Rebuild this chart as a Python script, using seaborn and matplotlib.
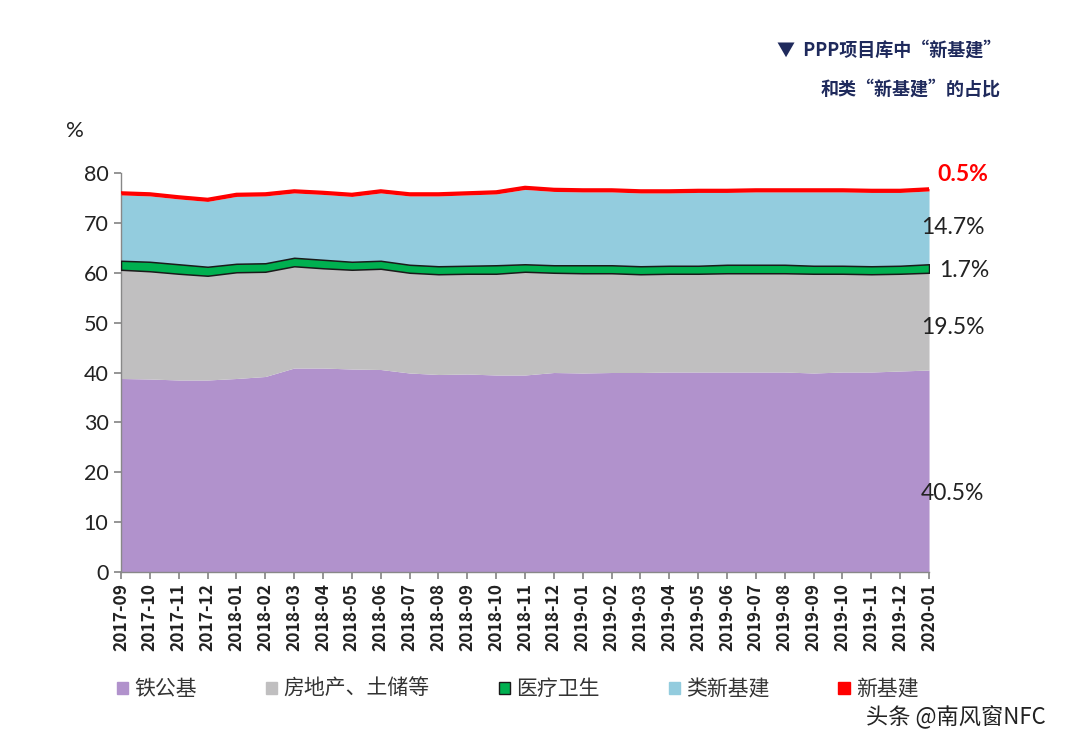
import matplotlib
matplotlib.use("Agg")
import matplotlib.pyplot as plt
from matplotlib.patches import Patch
import seaborn as sns
import numpy as np
import pandas as pd

months = ['2017-09', '2017-10', '2017-11', '2017-12', '2018-01', '2018-02', '2018-03',
          '2018-04', '2018-05', '2018-06', '2018-07', '2018-08', '2018-09', '2018-10',
          '2018-11', '2018-12', '2019-01', '2019-02', '2019-03', '2019-04', '2019-05',
          '2019-06', '2019-07', '2019-08', '2019-09', '2019-10', '2019-11', '2019-12',
          '2020-01']

tiegongji = [38.8, 38.7, 38.5, 38.5, 38.8, 39.2, 40.9, 40.9, 40.7, 40.6, 39.9, 39.6, 39.7, 39.5,
             39.5, 40.0, 39.9, 40.0, 40.0, 40.1, 40.1, 40.1, 40.1, 40.1, 39.9, 40.1, 40.1, 40.3, 40.5]
fangdichan = [21.8, 21.6, 21.3, 20.9, 21.3, 21.0, 20.4, 20.0, 19.9, 20.2, 20.1, 20.1, 20.1, 20.3,
              20.7, 20.0, 20.0, 19.9, 19.7, 19.7, 19.7, 19.8, 19.8, 19.8, 19.9, 19.7, 19.6, 19.5, 19.5]
yiliao = [1.8, 1.9, 1.9, 1.8, 1.7, 1.7, 1.7, 1.7, 1.6, 1.6, 1.6, 1.6, 1.6, 1.7,
          1.5, 1.5, 1.6, 1.6, 1.6, 1.6, 1.6, 1.7, 1.7, 1.7, 1.6, 1.6, 1.6, 1.6, 1.7]
lei_xinjijian = [13.2, 13.2, 13.1, 13.1, 13.5, 13.5, 13.0, 13.1, 13.1, 13.6, 13.8, 14.1, 14.2, 14.3,
                 15.0, 14.8, 14.7, 14.7, 14.7, 14.6, 14.7, 14.5, 14.6, 14.6, 14.8, 14.8, 14.8, 14.7, 14.7]
xinjijian = [0.5, 0.5, 0.5, 0.5, 0.5, 0.5, 0.5, 0.5, 0.5, 0.5, 0.5, 0.5, 0.5, 0.5,
             0.5, 0.5, 0.5, 0.5, 0.5, 0.5, 0.5, 0.5, 0.5, 0.5, 0.5, 0.5, 0.5, 0.5, 0.5]

series_names = ['铁公基', '房地产、土储等', '医疗卫生', '类新基建', '新基建']
colors = ['#B192CC', '#C0BFC0', '#00B050', '#93CCDE', '#FF0000']
end_labels = ['40.5%', '19.5%', '1.7%', '14.7%', '0.5%']

sns.set_theme(style='white')
plt.rcParams['font.family'] = ['Noto Sans CJK SC', 'DejaVu Sans']
num_font = ['Lato', 'DejaVu Sans']

df = pd.DataFrame({'month': months})
for name, vals in zip(series_names, [tiegongji, fangdichan, yiliao, lei_xinjijian, xinjijian]):
    df[name] = vals
x = np.arange(len(months))
cum = df[series_names].cumsum(axis=1)

fig = plt.figure(figsize=(10.67, 7.38), dpi=100)
ax = fig.add_axes([0.1134, 0.2249, 0.7573, 0.5407])

lower = np.zeros(len(months))
for i, name in enumerate(series_names):
    upper = cum[name].values
    if name == '医疗卫生':
        ax.fill_between(x, lower, upper, color=colors[i], edgecolor='#1a1a1a', linewidth=1.1, zorder=3)
    elif name == '新基建':
        ax.fill_between(x, lower, upper, color=colors[i], linewidth=0, zorder=4)
        sns.lineplot(x=x, y=upper, color=colors[i], linewidth=1.8, ax=ax, zorder=5)
    else:
        ax.fill_between(x, lower, upper, color=colors[i], linewidth=0, zorder=2)
    lower = upper

ax.set_xlim(0, len(months) - 1)
ax.set_ylim(0, 80)
ax.set_yticks(range(0, 81, 10))
ax.tick_params(axis='y', labelsize=15.5, length=5, color='#888888', direction='out', left=True, pad=4)
for lab in ax.get_yticklabels():
    lab.set_color('#222222')
    lab.set_family(num_font)
ax.set_xticks(x)
ax.set_xticklabels(months, rotation=90, fontsize=12.5, fontweight='bold', color='#222222')
ax.tick_params(axis='x', length=5, color='#888888', direction='out', bottom=True, pad=3)
for s in ['top', 'right']:
    ax.spines[s].set_visible(False)
for s in ['left', 'bottom']:
    ax.spines[s].set_color('#888888')
    ax.spines[s].set_linewidth(1)

# end-of-series labels
tr = ax.get_yaxis_transform()
lab_kw = dict(transform=tr, fontsize=16.5, ha='left', va='center', family=num_font)
ax.text(0.990, 15.8, end_labels[0], color='#222222', **lab_kw)
ax.text(0.990, 49.0, end_labels[1], color='#222222', **lab_kw)
ax.text(1.0125, 60.4, end_labels[2], color='#222222', **lab_kw)
ax.text(0.990, 69.1, end_labels[3], color='#222222', **lab_kw)
ax.text(1.0106, 79.6, end_labels[4], color='#FF0000', fontweight='bold', **lab_kw)

ax.text(-0.068, 1.105, '%', transform=ax.transAxes, fontsize=16, color='#222222', ha='left', va='center',
        family=num_font)

fig.text(0.938, 0.932, '▼  PPP项目库中“新基建”', fontsize=13, fontweight='heavy', color='#1F2A5C', ha='right', va='center')
fig.text(0.938, 0.879, '和类“新基建”的占比', fontsize=13, fontweight='heavy', color='#1F2A5C', ha='right', va='center')

handles = [Patch(facecolor=c, edgecolor=('#1a1a1a' if n == '医疗卫生' else c)) for n, c in zip(series_names, colors)]
fig.legend(handles, series_names, loc='center left', bbox_to_anchor=(0.092, 0.066), ncol=5, frameon=False,
           fontsize=15, handlelength=0.55, handleheight=0.55, handletextpad=0.3, columnspacing=3.3,
           labelcolor='#333333')

fig.text(0.98, 0.03, '头条 @南风窗NFC', fontsize=16, color='#222222', ha='right', va='center')

fig.savefig('out.png', dpi=100, facecolor='white')
